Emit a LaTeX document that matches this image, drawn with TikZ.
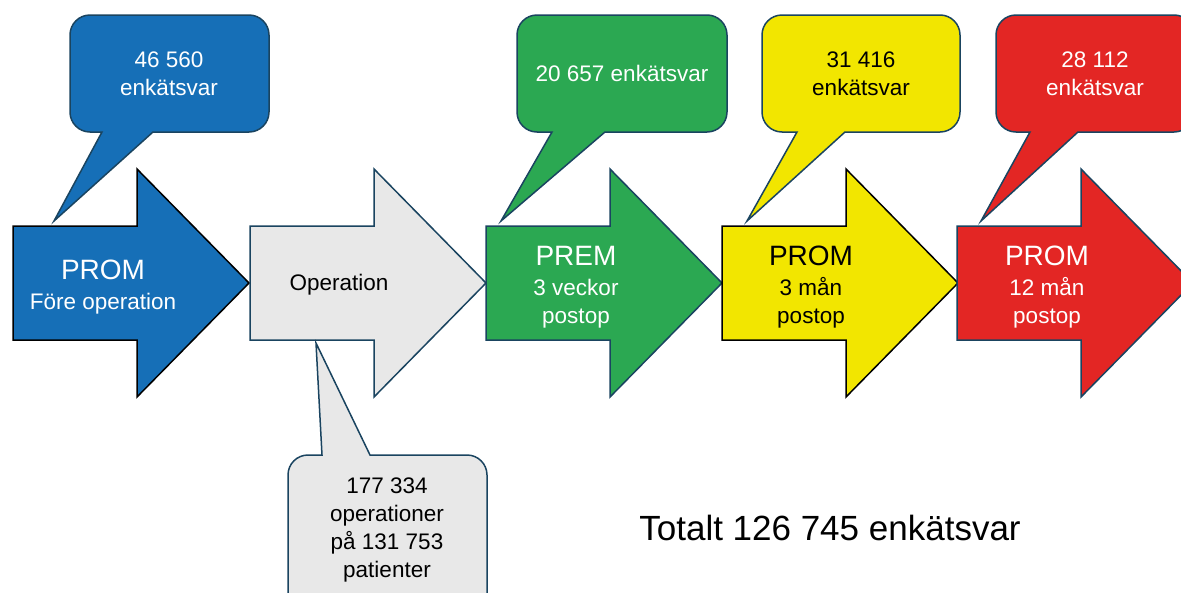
\documentclass[tikz,border=0pt]{standalone}
\usepackage{fontspec}
\setmainfont{Liberation Sans}
\definecolor{cblue}{RGB}{22,111,183}
\definecolor{cgreen}{RGB}{43,168,82}
\definecolor{cyellow}{RGB}{242,230,0}
\definecolor{cred}{RGB}{227,38,36}
\definecolor{cgray}{RGB}{232,232,232}
\definecolor{edge}{RGB}{26,68,96}
\newcommand\flowarrow[2]{%
  \draw[#2] (#1,226) -- (#1+124,226) -- (#1+124,169) -- (#1+236,283)
    -- (#1+124,397) -- (#1+124,340) -- (#1,340) -- cycle;}
\tikzset{
  shapeline/.style={line width=1.5pt, line join=miter},
  small/.style={font=\fontsize{22.5}{28}\selectfont, align=center, inner sep=0pt, anchor=base},
  big/.style={font=\fontsize{28}{30}\selectfont, inner sep=0pt, anchor=base},
}
\begin{document}
\begin{tikzpicture}[x=1pt,y=-1pt]
\useasboundingbox (0,0) rectangle (1181,592);
\clip (0,0) rectangle (1181,592);
% arrows
\flowarrow{13}{shapeline, draw=black, fill=cblue}
\flowarrow{250}{shapeline, draw=edge, fill=cgray}
\flowarrow{486}{shapeline, draw=edge, fill=cgreen}
\flowarrow{722}{shapeline, draw=black, fill=cyellow}
\flowarrow{957}{shapeline, draw=edge, fill=cred}
% callouts
\draw[shapeline, draw=edge, fill=cblue] (102,132) -- (54,221) -- (153,132)
  [rounded corners=20] -- (269,132) -- (269,15) -- (70,15) -- (70,132) [sharp corners] -- cycle;
\draw[shapeline, draw=edge, fill=cgreen] (552,132) -- (501,221) -- (605,132)
  [rounded corners=20] -- (727,132) -- (727,15) -- (517,15) -- (517,132) [sharp corners] -- cycle;
\draw[shapeline, draw=edge, fill=cyellow] (797,132) -- (747,221) -- (845,132)
  [rounded corners=20] -- (960,132) -- (960,15) -- (762,15) -- (762,132) [sharp corners] -- cycle;
\draw[shapeline, draw=edge, fill=cred] (1030,132) -- (981,221) -- (1078,132)
  [rounded corners=20] -- (1194,132) -- (1194,15) -- (996,15) -- (996,132) [sharp corners] -- cycle;
\draw[shapeline, draw=edge, fill=cgray] (322,455) -- (316,343) -- (370,455)
  [rounded corners=20] -- (487,455) -- (487,640) -- (288,640) -- (288,455) [sharp corners] -- cycle;
% arrow texts
\node[big, text=white] (t1) at (103,279) {PROM};
\node[small, text=white] (s1) at (103,309) {Före operation};
\node[small, text=black] (t2) at (339,290) {Operation};
\node[big, text=white] (t3) at (576,265) {PREM};
\node[small, text=white] (s3) at (576,323) {3 veckor\\postop};
\node[big, text=black] (t4) at (811,265) {PROM};
\node[small, text=black] (s4) at (811,323) {3 mån\\postop};
\node[big, text=white] (t5) at (1047,265) {PROM};
\node[small, text=white] (s5) at (1047,323) {12 mån\\postop};
% callout texts
\node[small, text=white] (c1) at (169,95) {46 560\\enkätsvar};
\node[small, text=white] (c3) at (622,81) {20 657 enkätsvar};
\node[small, text=black] (c4) at (861,95) {31 416\\enkätsvar};
\node[small, text=white] (c5) at (1095,95) {28 112\\enkätsvar};
\node[small, text=black] (c2) at (387,577) {177 334\\operationer\\på 131 753\\patienter};
% total
\node[font=\fontsize{35}{40}\selectfont, inner sep=0pt, anchor=base] (tot) at (830,540) {Totalt 126 745 enkätsvar};
\end{tikzpicture}
\end{document}
